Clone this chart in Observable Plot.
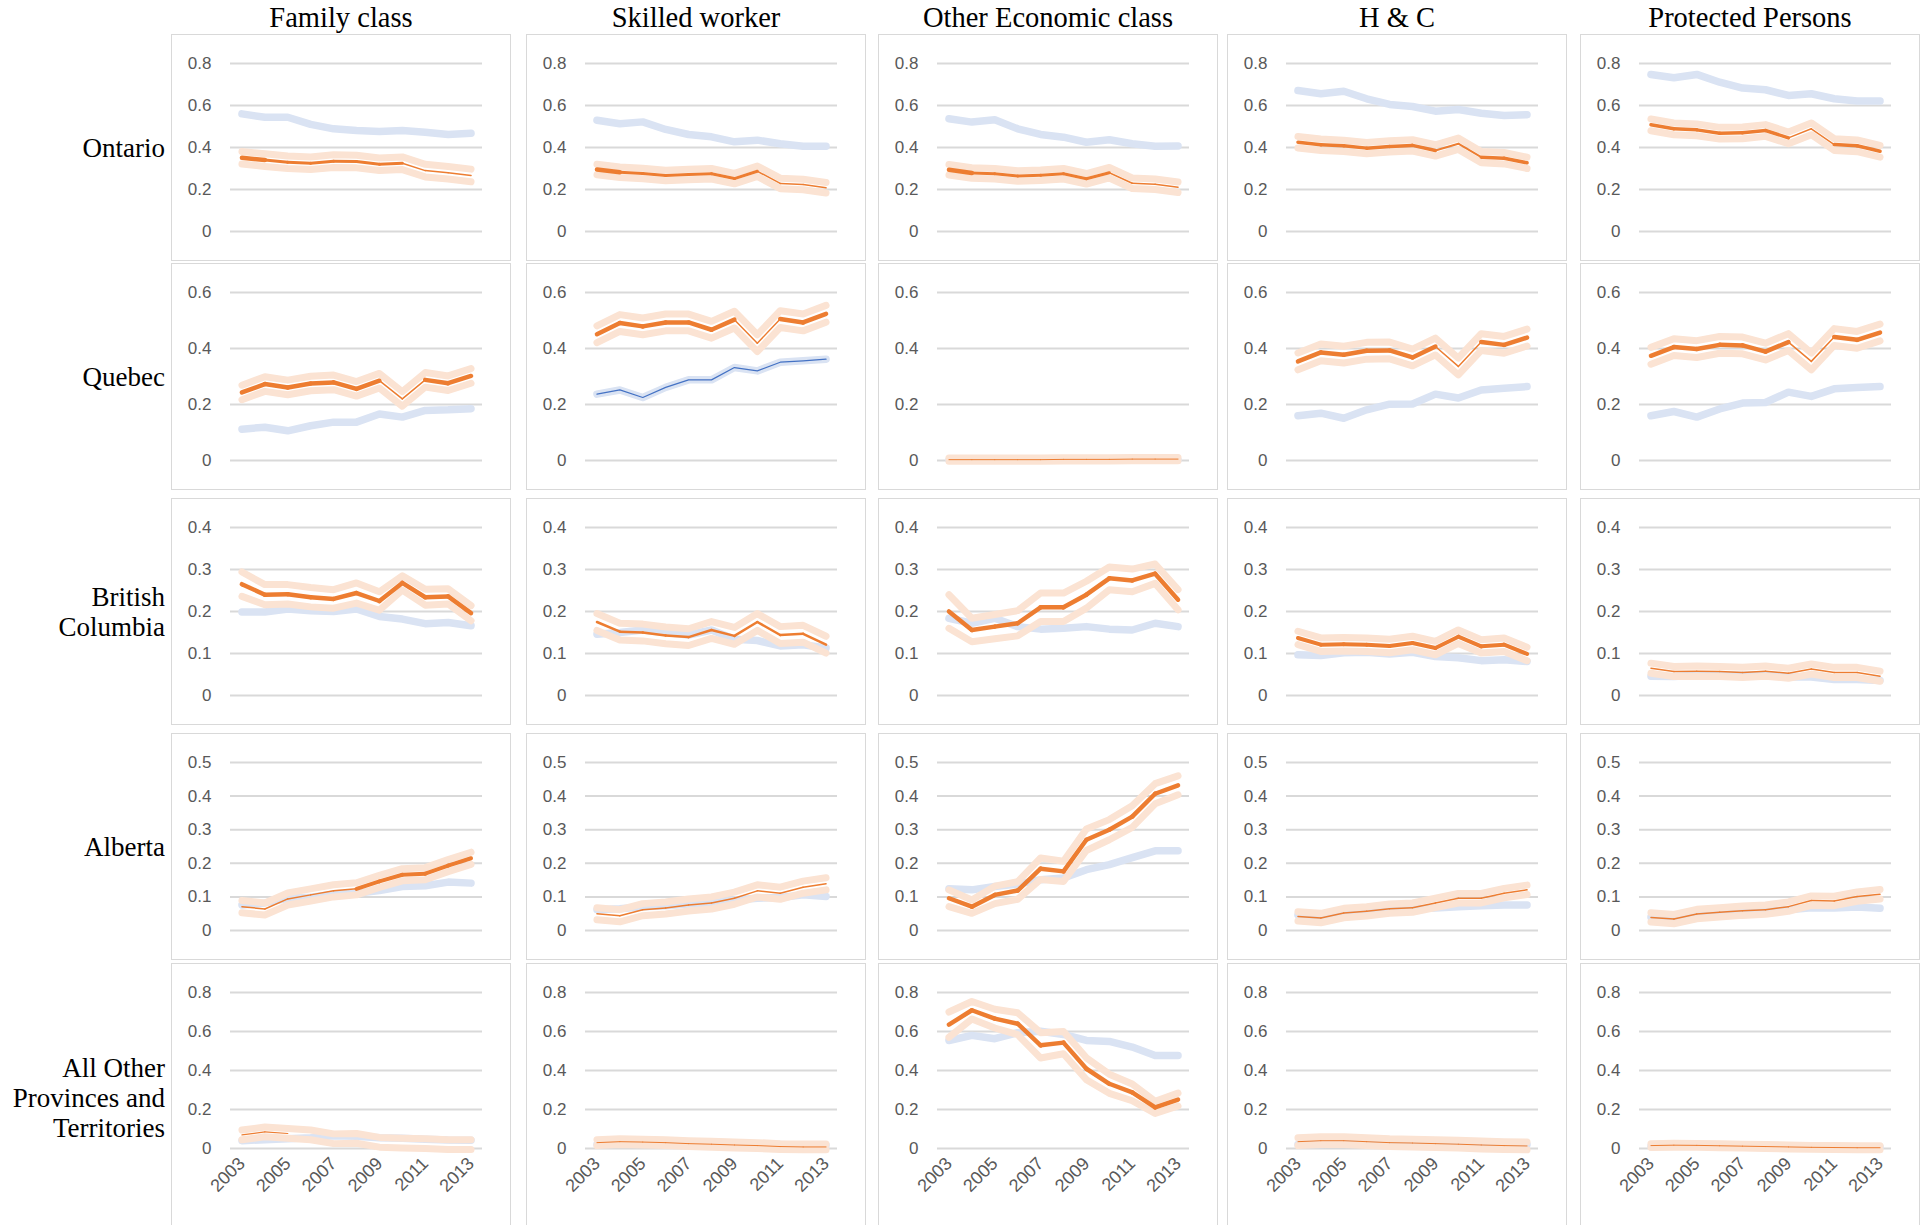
<!DOCTYPE html>
<html>
<head>
<meta charset="utf-8">
<script src="https://cdn.jsdelivr.net/npm/d3@7"></script>
<script src="https://cdn.jsdelivr.net/npm/@observablehq/plot@0.6"></script>
<style>
  html, body { margin: 0; padding: 0; background: #fff; }
  #root { position: relative; width: 1927px; height: 1225px; overflow: hidden; font-family: "Liberation Serif", "Times New Roman", serif; color: #000; }
  .panel { position: absolute; outline: 1px solid #d9d9d9; outline-offset: -1px; background: #fff; }
  .panel svg { display: block; }
  .colTitle { position: absolute; top: 4px; width: 340px; font-size: 28.5px; line-height: 28px; text-align: center; white-space: nowrap; }
  .rowLabel { position: absolute; left: 0; width: 165px; font-size: 27px; line-height: 30px; text-align: right; transform: translateY(-50%); white-space: nowrap; }
</style>
</head>
<body>
<div id="root"></div>
<script>
// ---------------- data ----------------
const years = [2003, 2004, 2005, 2006, 2007, 2008, 2009, 2010, 2011, 2012, 2013];
const classes = ["Family class", "Skilled worker", "Other Economic class", "H & C", "Protected Persons"];
const provinces = ["Ontario", "Quebec", "British\nColumbia", "Alberta", "All Other\nProvinces and\nTerritories"];
const yTicks = [
  [0, 0.2, 0.4, 0.6, 0.8],
  [0, 0.2, 0.4, 0.6],
  [0, 0.1, 0.2, 0.3, 0.4],
  [0, 0.1, 0.2, 0.3, 0.4, 0.5],
  [0, 0.2, 0.4, 0.6, 0.8]
];
const xTickLabels = [2003, 2005, 2007, 2009, 2011, 2013];

// light blue series, one list per class (Family, Skilled, Other Econ, H&C, Protected)
const ontarioBlue = [
  [0.56, 0.544, 0.544, 0.51, 0.489, 0.481, 0.476, 0.481, 0.473, 0.462, 0.468],
  [0.530, 0.513, 0.522, 0.486, 0.462, 0.451, 0.427, 0.435, 0.418, 0.406, 0.406],
  [0.537, 0.521, 0.532, 0.489, 0.462, 0.449, 0.425, 0.437, 0.418, 0.406, 0.407],
  [0.671, 0.656, 0.668, 0.632, 0.605, 0.595, 0.573, 0.581, 0.563, 0.552, 0.556],
  [0.748, 0.732, 0.748, 0.711, 0.683, 0.675, 0.648, 0.656, 0.632, 0.621, 0.621]
];
const ontarioOrange = [
  [0.351, 0.34, 0.33, 0.325, 0.335, 0.333, 0.32, 0.325, 0.29, 0.28, 0.267],
  [0.295, 0.282, 0.276, 0.267, 0.271, 0.275, 0.252, 0.287, 0.229, 0.224, 0.208],
  [0.294, 0.279, 0.275, 0.264, 0.268, 0.275, 0.251, 0.28, 0.23, 0.225, 0.211],
  [0.425, 0.413, 0.408, 0.397, 0.405, 0.41, 0.386, 0.418, 0.354, 0.349, 0.327],
  [0.508, 0.489, 0.484, 0.468, 0.47, 0.481, 0.446, 0.489, 0.414, 0.408, 0.382]
];
const ontarioErr = [0.03, 0.025, 0.025, 0.027, 0.028];

const quebecBlue = [
  [0.112, 0.119, 0.106, 0.124, 0.137, 0.137, 0.166, 0.155, 0.179, 0.181, 0.185],
  [0.237, 0.252, 0.225, 0.261, 0.288, 0.288, 0.332, 0.32, 0.351, 0.356, 0.362],
  [0.002, 0.002, 0.002, 0.002, 0.002, 0.002, 0.002, 0.002, 0.002, 0.002, 0.002],
  [0.16, 0.169, 0.151, 0.181, 0.201, 0.202, 0.237, 0.223, 0.252, 0.258, 0.264],
  [0.16, 0.175, 0.155, 0.184, 0.205, 0.207, 0.244, 0.229, 0.256, 0.261, 0.264]
];
const quebecOrange = [
  [0.243, 0.273, 0.261, 0.275, 0.279, 0.256, 0.285, 0.22, 0.288, 0.276, 0.302],
  [0.451, 0.491, 0.479, 0.493, 0.493, 0.467, 0.503, 0.419, 0.505, 0.493, 0.524],
  [0.003, 0.003, 0.003, 0.003, 0.003, 0.004, 0.004, 0.004, 0.005, 0.005, 0.005],
  [0.354, 0.386, 0.378, 0.392, 0.393, 0.368, 0.407, 0.336, 0.423, 0.413, 0.439],
  [0.374, 0.405, 0.398, 0.413, 0.411, 0.389, 0.423, 0.354, 0.441, 0.431, 0.457]
];
const quebecErr = [0.026, 0.03, 0.006, 0.03, 0.03];

const bcBlue = [
  [0.199, 0.199, 0.206, 0.202, 0.2, 0.206, 0.188, 0.182, 0.171, 0.174, 0.166],
  [0.146, 0.15, 0.156, 0.15, 0.144, 0.156, 0.134, 0.131, 0.118, 0.121, 0.113],
  [0.184, 0.172, 0.184, 0.164, 0.158, 0.16, 0.164, 0.158, 0.156, 0.172, 0.164],
  [0.097, 0.095, 0.102, 0.103, 0.099, 0.103, 0.093, 0.09, 0.083, 0.085, 0.081],
  [0.046, 0.045, 0.048, 0.049, 0.048, 0.05, 0.044, 0.044, 0.038, 0.038, 0.036]
];
const bcOrange = [
  [0.265, 0.24, 0.241, 0.234, 0.23, 0.244, 0.225, 0.268, 0.234, 0.236, 0.196],
  [0.175, 0.152, 0.15, 0.143, 0.139, 0.156, 0.142, 0.175, 0.144, 0.147, 0.121],
  [0.2, 0.156, 0.164, 0.172, 0.21, 0.21, 0.24, 0.279, 0.274, 0.29, 0.228],
  [0.137, 0.121, 0.122, 0.121, 0.118, 0.125, 0.113, 0.14, 0.117, 0.121, 0.099],
  [0.065, 0.057, 0.058, 0.057, 0.055, 0.058, 0.053, 0.063, 0.055, 0.055, 0.046]
];
const bcErr = [
  [0.029, 0.024, 0.023, 0.023, 0.022, 0.024, 0.022, 0.017, 0.019, 0.018, 0.018],
  0.02,
  [0.04, 0.028, 0.029, 0.03, 0.034, 0.034, 0.032, 0.027, 0.027, 0.023, 0.024],
  0.016,
  0.012
];

const albertaBlue = [
  [0.076, 0.082, 0.096, 0.099, 0.108, 0.111, 0.119, 0.131, 0.133, 0.144, 0.141],
  [0.062, 0.065, 0.071, 0.074, 0.079, 0.082, 0.091, 0.096, 0.098, 0.106, 0.101],
  [0.124, 0.121, 0.131, 0.138, 0.151, 0.156, 0.181, 0.196, 0.217, 0.237, 0.237],
  [0.047, 0.042, 0.052, 0.059, 0.064, 0.064, 0.067, 0.071, 0.074, 0.076, 0.076],
  [0.04, 0.038, 0.047, 0.052, 0.056, 0.058, 0.062, 0.068, 0.067, 0.07, 0.066]
];
const albertaOrange = [
  [0.071, 0.064, 0.094, 0.106, 0.118, 0.124, 0.146, 0.166, 0.169, 0.193, 0.215],
  [0.05, 0.044, 0.062, 0.067, 0.076, 0.082, 0.096, 0.118, 0.111, 0.129, 0.139],
  [0.096, 0.071, 0.106, 0.119, 0.184, 0.176, 0.27, 0.3, 0.339, 0.407, 0.432],
  [0.042, 0.037, 0.052, 0.057, 0.065, 0.068, 0.082, 0.096, 0.096, 0.111, 0.121],
  [0.039, 0.034, 0.049, 0.054, 0.059, 0.062, 0.071, 0.089, 0.088, 0.101, 0.108]
];
const albertaErr = [
  0.018,
  0.018,
  [0.025, 0.02, 0.026, 0.026, 0.032, 0.03, 0.032, 0.03, 0.032, 0.03, 0.028],
  0.014,
  0.014
];

const otherBlue = [
  [0.04, 0.045, 0.05, 0.055, 0.065, 0.063, 0.055, 0.052, 0.048, 0.043, 0.042],
  [0.02, 0.022, 0.025, 0.027, 0.028, 0.027, 0.025, 0.023, 0.02, 0.018, 0.017],
  [0.554, 0.58, 0.563, 0.594, 0.601, 0.585, 0.554, 0.549, 0.52, 0.477, 0.477],
  [0.02, 0.02, 0.025, 0.03, 0.03, 0.03, 0.028, 0.025, 0.022, 0.02, 0.02],
  [0.012, 0.013, 0.013, 0.013, 0.013, 0.012, 0.012, 0.011, 0.01, 0.008, 0.008]
];
const otherOrange = [
  [0.07, 0.085, 0.077, 0.07, 0.05, 0.052, 0.032, 0.028, 0.025, 0.02, 0.02],
  [0.03, 0.035, 0.033, 0.03, 0.025, 0.022, 0.018, 0.015, 0.01, 0.008, 0.008],
  [0.635, 0.709, 0.666, 0.64, 0.529, 0.543, 0.409, 0.332, 0.288, 0.211, 0.251],
  [0.035, 0.04, 0.04, 0.035, 0.03, 0.028, 0.025, 0.022, 0.018, 0.015, 0.013],
  [0.015, 0.017, 0.016, 0.014, 0.012, 0.01, 0.008, 0.006, 0.005, 0.004, 0.004]
];
const otherErr = [
  0.025,
  0.015,
  [0.065, 0.045, 0.048, 0.056, 0.065, 0.057, 0.056, 0.049, 0.043, 0.031, 0.033],
  0.02,
  0.01
];

// ---------------- layout & style ----------------
const blueByRow = [ontarioBlue, quebecBlue, bcBlue, albertaBlue, otherBlue];
const orangeByRow = [ontarioOrange, quebecOrange, bcOrange, albertaOrange, otherOrange];
const errByRow = [ontarioErr, quebecErr, bcErr, albertaErr, otherErr];

const colLeft = [171, 526, 878, 1227, 1580];
const rowTop = [34, 263, 498, 733, 963];
const panelW = 340;
const panelH = [227, 227, 227, 227, 265];

const BLUE_LIGHT = "#dae3f3";
const BLUE_DARK = "#4472c4";
const ORANGE = "#ed7d31";
const ORANGE_LIGHT = "#fbe3d3";
const GRID = "#d9d9d9";

// line weight of each orange segment (style, per panel)
function segWidth(r, c, i) {
  const W = 4.5, M = 3, T = 1.5;
  if (r === 0) {
    if (c <= 2) return i === 0 ? W : (i < 7 ? M : T);
    if (c === 3) return (i === 6 || i === 7) ? 2 : 3.5;
    return (i === 6 || i === 7) ? T : 3.5;
  }
  if (r === 1) {
    if (c === 2) return 1;
    return (i === 6 || i === 7) ? T : W;
  }
  if (r === 2) return [W, 2.5, W, 4, T][c];
  if (r === 3) {
    if (c === 0) return i >= 5 ? 4 : T;
    if (c === 2) return W;
    return T;
  }
  if (r === 4 && c === 0) return i < 2 ? 1.2 : 0;
  return c === 2 ? W : 1;
}

const root = document.getElementById("root");

classes.forEach((name, c) => {
  const d = document.createElement("div");
  d.className = "colTitle";
  d.style.left = colLeft[c] + "px";
  d.textContent = name;
  root.appendChild(d);
});

provinces.forEach((name, r) => {
  const d = document.createElement("div");
  d.className = "rowLabel";
  const center = r === 4 ? 1098 : rowTop[r] + panelH[r] / 2;
  d.style.top = center + "px";
  d.innerHTML = name.split("\n").join("<br>");
  root.appendChild(d);
});

const fmt = v => String(+v.toFixed(2));

for (let r = 0; r < 5; r++) {
  for (let c = 0; c < 5; c++) {
    const blue = blueByRow[r][c];
    const val = orangeByRow[r][c];
    const e = errByRow[r][c];
    const rows = years.map((yr, i) => {
      const ei = Array.isArray(e) ? e[i] : e;
      return { year: yr, blue: blue[i], val: val[i], lo: val[i] - ei, hi: val[i] + ei };
    });
    const segs = d3.pairs(rows).map(([a, b], i) => ({
      x1: a.year, y1: a.val, x2: b.year, y2: b.val, w: segWidth(r, c, i)
    })).filter(s => s.w > 0);
    const ticks = yTicks[r];
    const last = r === 4;
    const marks = [
      Plot.gridY(ticks, { stroke: GRID, strokeOpacity: 1, strokeWidth: 2 }),
      Plot.axisY(ticks, { tickSize: 0, tickPadding: 19, tickFormat: fmt, fontSize: 17, fill: "#595959" }),
      Plot.line(rows, { x: "year", y: "blue", stroke: BLUE_LIGHT, strokeWidth: 7.5, strokeLinecap: "round", strokeLinejoin: "round" })
    ];
    if (r === 1 && c === 1) {
      marks.push(Plot.line(rows, { x: "year", y: "blue", stroke: BLUE_DARK, strokeWidth: 1.2, strokeLinejoin: "round" }));
    }
    marks.push(
      Plot.line(rows, { x: "year", y: "hi", stroke: ORANGE_LIGHT, strokeWidth: 7, strokeLinecap: "round", strokeLinejoin: "round" }),
      Plot.line(rows, { x: "year", y: "lo", stroke: ORANGE_LIGHT, strokeWidth: 7, strokeLinecap: "round", strokeLinejoin: "round" }),
      Plot.link(segs, { x1: "x1", y1: "y1", x2: "x2", y2: "y2", stroke: ORANGE, strokeWidth: "w", strokeLinecap: "round" })
    );
    if (last) {
      marks.push(Plot.axisX(xTickLabels, { tickSize: 0, tickPadding: 12, tickRotate: -45, tickFormat: d => String(d), fontSize: 18, fill: "#595959" }));
    }
    const chart = Plot.plot({
      width: panelW,
      height: panelH[r],
      marginLeft: 59,
      marginRight: 29,
      marginTop: 29,
      marginBottom: panelH[r] - 29 - (last ? 156 : 168),
      x: { domain: [2002.5, 2013.5], axis: null },
      y: { domain: [0, ticks[ticks.length - 1]], axis: null },
      style: { background: "transparent", fontFamily: "'Liberation Sans', Arial, sans-serif", color: "#595959", overflow: "visible" },
      marks
    });
    const wrap = document.createElement("div");
    wrap.className = "panel";
    wrap.style.left = colLeft[c] + "px";
    wrap.style.top = rowTop[r] + "px";
    wrap.style.width = panelW + "px";
    wrap.style.height = panelH[r] + "px";
    wrap.appendChild(chart);
    root.appendChild(wrap);
  }
}
</script>
</body>
</html>
